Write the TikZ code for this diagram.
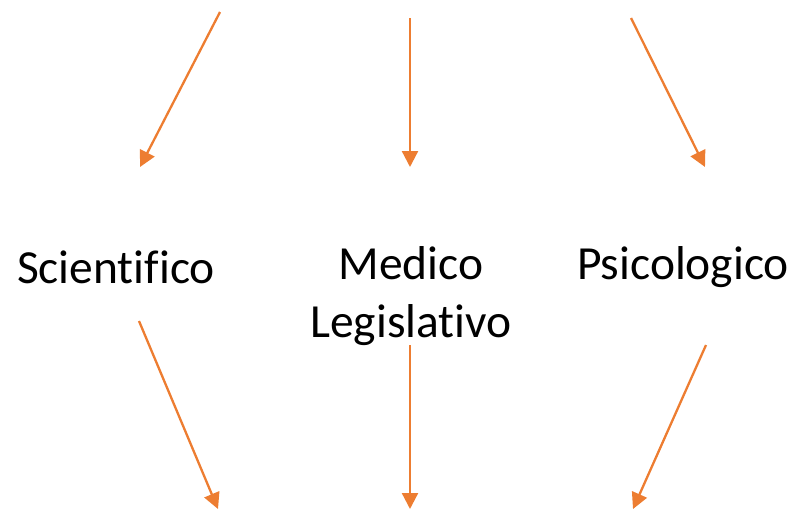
\documentclass[tikz,border=0pt]{standalone}
\usepackage{fontspec}
\setmainfont[Ligatures=NoCommon]{Carlito}
\usetikzlibrary{arrows.meta}
\definecolor{arr}{HTML}{ED7D31}
\begin{document}
\begin{tikzpicture}[x=1pt,y=-1pt,
  lbl/.style={inner sep=0pt,align=center,font=\fontsize{47.5}{58}\selectfont},
  conn/.style={draw=arr,line width=2.3pt,-{Triangle[width=16pt,length=16pt]}}]
\useasboundingbox (0,0) rectangle (795,512);
\node[lbl] (sci) at (116,267) {Scientifico};
\node[lbl] (med) at (411,296) {Medico\\Legislativo};
\node[lbl] (psi) at (683,267) {Psicologico};
\coordinate (a1) at (220,12);  \coordinate (b1) at (140,167);
\coordinate (a2) at (410,18);  \coordinate (b2) at (410,167);
\coordinate (a3) at (631,18);  \coordinate (b3) at (705,167);
\coordinate (a4) at (139,321); \coordinate (b4) at (218,509);
\coordinate (a5) at (410,345); \coordinate (b5) at (410,509);
\coordinate (a6) at (706,345); \coordinate (b6) at (633,509);
\draw[conn] (a1) -- (b1);
\draw[conn] (a2) -- (b2);
\draw[conn] (a3) -- (b3);
\draw[conn] (a4) -- (b4);
\draw[conn] (a5) -- (b5);
\draw[conn] (a6) -- (b6);
\end{tikzpicture}
\end{document}
